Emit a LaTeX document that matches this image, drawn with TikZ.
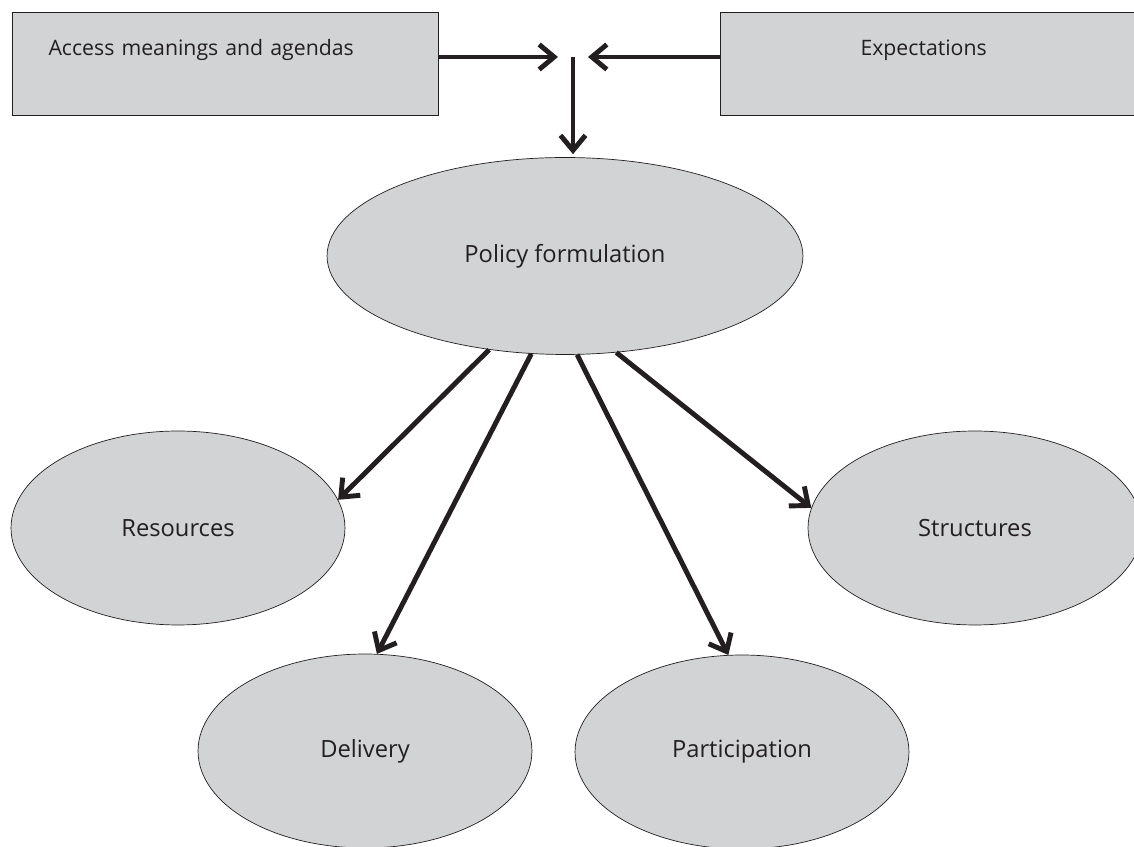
\documentclass[tikz,border=0pt]{standalone}
\usepackage{fontspec}
\setmainfont{Open Sans}
\usetikzlibrary{arrows.meta}
\usetikzlibrary{shapes.geometric}
\definecolor{shade}{HTML}{D1D3D4}
\definecolor{ink}{HTML}{231F20}

\begin{document}
\begin{tikzpicture}[x=0.02cm, y=-0.02cm,
    every node/.style={text=ink},
    textbox/.style={rectangle, draw=ink, line width=0.6pt, fill=shade, anchor=north west, minimum width=8.52cm, minimum height=2.06cm, inner ysep=0pt, text height=0.86cm, text depth=1.2cm, align=left, font=\fontsize{12.1}{14}\selectfont},
    bubble/.style={ellipse, draw=ink, line width=0.4pt, fill=shade, inner sep=0pt, minimum width=6.68cm, minimum height=3.88cm, font=\fontsize{13.5}{16}\selectfont},
    flow/.style={draw=ink, line width=2.8pt, -{Straight Barb[length=3mm, width=5mm]}}]
    \clip (0, 0) rectangle (1134, 847);
    \node[textbox, inner xsep=0.72cm, text width=7.08cm] (access) at (12, 12) {Access meanings and agendas};
    \node[textbox, inner xsep=2.8cm, text width=2.92cm] (expect) at (720, 12) {Expectations};
    \coordinate (junc) at (573, 57);
    \node[bubble, minimum width=9.52cm, minimum height=3.94cm] (policy) at (565, 256) {Policy formulation};
    \node[bubble] (res) at (178, 528) {Resources};
    \node[bubble] (struct) at (975, 528) {Structures};
    \node[bubble] (deliv) at (365, 751) {Delivery};
    \node[bubble] (partic) at (742, 752) {Participation};
    \draw[flow, shorten >=0.3cm] (access.east |- junc) -- (junc);
    \draw[flow, shorten >=0.3cm] (expect.west |- junc) -- (junc);
    \draw[flow, shorten >=0.06cm] (junc) -- (junc |- policy.north);
    \draw[flow] (policy.231) -- (res.10);
    \draw[flow] (policy.251) -- (deliv.83);
    \draw[flow] (policy.277) -- (partic.98);
    \draw[flow] (policy.298) -- (struct.173);
  \end{tikzpicture}
\end{document}
